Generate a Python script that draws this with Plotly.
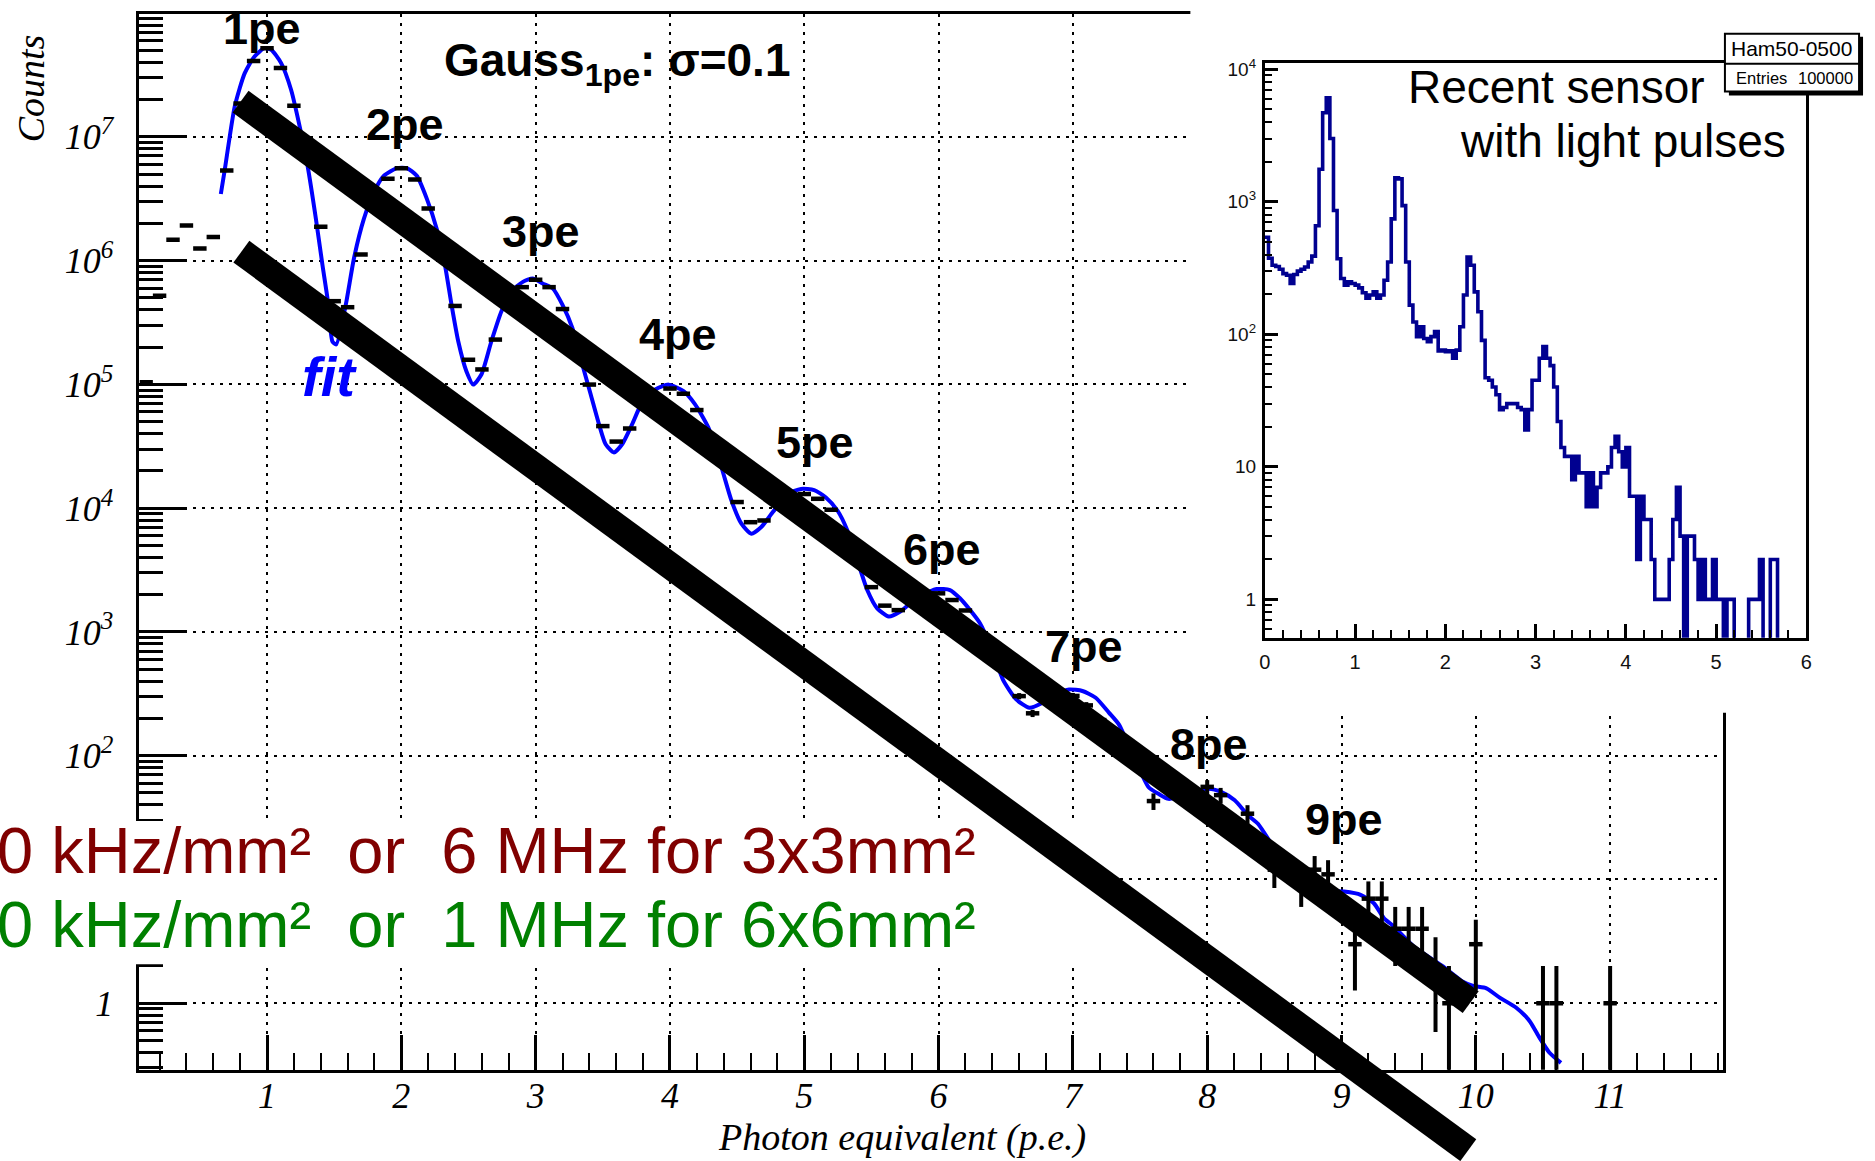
import math
import plotly.graph_objects as go

W, H = 1875, 1161

# ---------------- data ----------------
# main histogram points: bin centre (p.e.) and counts
pts_x = [0.1, 0.2, 0.3, 0.4, 0.5, 0.6, 0.7, 0.8, 0.9, 1.0, 1.1, 1.2,
         1.4, 1.5, 1.6, 1.7, 1.9, 2.0, 2.1, 2.2, 2.4, 2.5, 2.6, 2.7,
         2.9, 3.0, 3.1, 3.2, 3.4, 3.5, 3.6, 3.7, 4.0, 4.1, 4.2, 4.5, 4.6, 4.7,
         5.0, 5.1, 5.2, 5.5, 5.6, 5.7, 6.0, 6.1, 6.2, 6.6, 6.7, 7.0, 7.1, 7.2,
         7.6, 8.0, 8.1, 8.3, 8.5, 8.7, 8.8, 8.9, 9.1, 9.2, 9.3, 9.4, 9.5, 9.6,
         9.7, 9.8, 10.0, 10.5, 10.6, 11.0]
pts_y = [1.04e5, 5.2e5, 1.47e6, 1.92e6, 1.25e6, 1.55e6, 5.34e6, 1.86e7, 4.1e7, 5.2e7, 3.6e7, 1.78e7,
         1.88e6, 4.7e5, 4.2e5, 1.12e6, 4.58e6, 5.58e6, 4.52e6, 2.63e6, 4.3e5, 1.58e5, 1.32e5, 2.3e5,
         6.1e5, 7.0e5, 6.1e5, 4.06e5, 9.96e4, 4.6e4, 3.45e4, 4.4e4, 9.25e4, 8.4e4, 6.2e4, 1.12e4, 7.7e3, 7.95e3,
         1.3e4, 1.19e4, 9.7e3, 2.3e3, 1.63e3, 1.5e3, 2.05e3, 1.81e3, 1.49e3, 303, 220, 304, 255, 194,
         43, 56, 48, 34, 12, 9, 12, 11, 3, 7, 7, 4, 4, 4,
         2, 1, 3, 1, 1, 1]

# fitted curve
fit_x = [0.656, 0.686, 0.76, 0.834, 0.907, 0.981, 1.031, 1.105, 1.179, 1.253,
         1.302, 1.364, 1.413, 1.45, 1.487, 1.515, 1.586, 1.647, 1.721, 1.795,
         1.869, 1.967, 2.041, 2.115, 2.19, 2.263, 2.325, 2.374, 2.424, 2.485,
         2.535, 2.596, 2.67, 2.744, 2.818, 2.905, 2.978, 3.052, 3.127, 3.2,
         3.274, 3.348, 3.41, 3.472, 3.521, 3.583, 3.644, 3.718, 3.792, 3.891,
         3.99, 4.101, 4.187, 4.286, 4.384, 4.458, 4.532, 4.606, 4.68, 4.766,
         4.877, 4.976, 5.074, 5.161, 5.247, 5.321, 5.395, 5.469, 5.543, 5.629,
         5.715, 5.789, 5.876, 5.987, 6.085, 6.159, 6.233, 6.307, 6.40, 6.479,
         6.578, 6.677, 6.775, 6.874, 6.972, 7.071, 7.17, 7.268, 7.342, 7.45,
         7.564, 7.64, 7.712, 7.85, 8.008, 8.107, 8.205, 8.304, 8.378, 8.5,
         8.65, 8.8, 9.019, 9.142, 9.241, 9.315, 9.389, 9.55, 9.75, 9.9,
         9.981, 10.079, 10.178, 10.301, 10.4, 10.473, 10.547, 10.634]
fit_y = [3.45e6, 5.48e6, 1.77e7, 3.27e7, 4.46e7, 5.2e7, 5.05e7, 3.94e7, 2.4e7, 1.08e7,
         5.83e6, 2.17e6, 9.16e5, 4.95e5, 2.22e5, 2.1e5, 4.38e5, 1.04e6, 2.17e6, 3.56e6,
         4.84e6, 5.58e6, 5.58e6, 4.84e6, 3.15e6, 1.81e6, 9.16e5, 4.38e5, 2.22e5, 1.27e5,
         9.95e4, 1.2e5, 2.22e5, 3.86e5, 5.6e5, 6.73e5, 7.16e5, 6.53e5, 5.96e5, 4.38e5,
         2.84e5, 1.44e5, 8.28e4, 4.75e4, 3.28e4, 2.82e4, 3.28e4, 4.75e4, 7.1e4, 9.08e4,
         9.95e4, 8.81e4, 6.89e4, 4.48e4, 2.13e4, 1.15e4, 7.48e3, 6.22e3, 7.03e3, 9.29e3,
         1.3e4, 1.43e4, 1.4e4, 1.22e4, 9.57e3, 6.61e3, 3.79e3, 2.18e3, 1.55e3, 1.33e3,
         1.46e3, 1.7e3, 1.99e3, 2.22e3, 2.18e3, 1.87e3, 1.51e3, 1.18e3, 7.1e2, 4.12e2,
         2.85e2, 2.44e2, 2.68e2, 3.13e2, 3.43e2, 3.33e2, 2.94e2, 2.23e2, 1.79e2, 1.0e2,
         55.6, 49, 44.8, 47.9, 54, 50.7, 43.6, 33, 28.2, 17.8,
         10.5, 8.3, 7.98, 7.52, 6.43, 4.88, 4.18, 2.8, 2.0, 1.5,
         1.38, 1.32, 1.11, 0.92, 0.72, 0.53, 0.40, 0.33]

# hand-drawn slope guides (x in p.e., y in counts)
guide_hi_x = [0.803, 9.962]
guide_hi_y = [1.92e7, 1.02]
guide_lo_x = [0.809, 9.944]
guide_lo_y = [1.18e6, 0.065]

# inset histogram (bin width 0.04 from 0 to 6)
inset_bin_w = 0.04
inset_counts = [540, 375, 332, 325, 310, 287, 279, 242, 283, 300,
                310, 322, 351, 389, 660, 1760, 4700, 6100, 3000, 860,
                372, 264, 235, 249, 242, 235, 224, 206, 187, 198,
                209, 187, 198, 256, 351, 743, 1520, 1490, 935, 351,
                166, 124, 96, 114, 93, 88, 96, 105, 75, 76,
                74, 75, 66, 76, 114, 198, 383, 332, 209, 148,
                90, 47, 45, 40, 35, 27, 28, 30, 30, 30,
                28, 27, 19, 27, 45, 45, 66, 81, 66, 58,
                40, 22, 14, 12, 12, 8, 12, 9, 9, 5,
                9, 5, 7, 9, 9, 10, 14, 17, 13, 10,
                14, 6, 6, 2, 6, 4, 4, 2, 1, 1,
                1, 1, 2, 4, 7, 3, 0, 3, 3, 2,
                1, 2, 1, 1, 2, 1, 1, 0, 1, 1,
                0, 0, 0, 0, 1, 1, 1, 2, 0, 0,
                2, 2, 0, 0, 0, 0, 0, 0, 0, 0]

main_xticks = [1, 2, 3, 4, 5, 6, 7, 8, 9, 10, 11]
main_yticks = [1, 10, 1e2, 1e3, 1e4, 1e5, 1e6, 1e7]
# the "10" label sits under the text panel in the original, so it is left blank
main_yticktext = ["1", "", "10<sup>2</sup>", "10<sup>3</sup>", "10<sup>4</sup>",
                  "10<sup>5</sup>", "10<sup>6</sup>", "10<sup>7</sup>"]
inset_xticks = [0, 1, 2, 3, 4, 5, 6]
inset_yticks = [1, 10, 100, 1000, 10000]
inset_yticktext = ["1", "10", "10<sup>2</sup>", "10<sup>3</sup>", "10<sup>4</sup>"]
pe_labels = ["1pe", "2pe", "3pe", "4pe", "5pe", "6pe", "7pe", "8pe", "9pe"]

# ---------------- geometry (pixels of the 1875x1161 page) ----------------
MAIN_L, MAIN_R, MAIN_T, MAIN_B = 134.3, 1728.0, 7.3, 1069.3
MAIN_XR = [0.05, 11.84]
MAIN_YR = [-0.538, 7.99]
INS_L, INS_R, INS_T, INS_B = 1267.0, 1812.0, 56.0, 634.6
INS_XR = [0, 6]
INS_YR = [-0.29, 4.05]


def pxx(x):
    return x / W


def pxy(y):
    return 1 - y / H


def ext_x(l, r, r0, r1):
    s = (r1 - r0) / (r - l)
    return [r0 - l * s, r1 + (W - r) * s]


def ext_y(t, b, r0, r1):
    s = (r1 - r0) / (b - t)
    return [r0 - (H - b) * s, r1 + t * s]


SERIF = "Liberation Serif"
SANS = "Liberation Sans"

fig = go.Figure()

# main plot
fig.add_trace(go.Scatter(x=fit_x, y=fit_y, mode="lines", xaxis="x", yaxis="y",
                         line=dict(color="#0000ff", width=4, shape="spline", smoothing=0.6),
                         hoverinfo="skip", showlegend=False))
fig.add_trace(go.Scatter(x=pts_x, y=pts_y, mode="markers", xaxis="x", yaxis="y",
                         marker=dict(size=2, color="black"),
                         error_x=dict(type="constant", value=0.05, thickness=4.5, width=0, color="black"),
                         error_y=dict(type="data", array=[math.sqrt(v) for v in pts_y],
                                      thickness=4, width=0, color="black"),
                         hoverinfo="skip", showlegend=False))
# helper pixel subplot (white masks live in its shape layer)
fig.add_trace(go.Scatter(x=[], y=[], xaxis="x2", yaxis="y2", showlegend=False, hoverinfo="skip"))
# slope guides on an overlay with the same scale as the main axes
for gx, gy in ((guide_hi_x, guide_hi_y), (guide_lo_x, guide_lo_y)):
    fig.add_trace(go.Scatter(x=gx, y=gy, mode="lines", xaxis="x3", yaxis="y3",
                             line=dict(color="black", width=27),
                             hoverinfo="skip", showlegend=False))
# inset histogram
edges = [round(i * inset_bin_w, 4) for i in range(len(inset_counts) + 1)]
hist_y = [c if c > 0 else 0.1 for c in inset_counts]
hist_y = hist_y + [hist_y[-1]]
fig.add_trace(go.Scatter(x=edges, y=hist_y, mode="lines", xaxis="x4", yaxis="y4",
                         line=dict(color="#000090", width=3.6, shape="hv"),
                         hoverinfo="skip", showlegend=False))

grid = dict(showgrid=True, gridcolor="black", gridwidth=2, griddash="3px,6px")
tickfont_main = dict(family=SERIF, size=36, color="black", style="italic")

fig.update_layout(
    width=W, height=H, autosize=False,
    margin=dict(l=0, r=0, t=0, b=0),
    paper_bgcolor="white", plot_bgcolor="rgba(0,0,0,0)",
    showlegend=False,
    xaxis=dict(domain=[pxx(MAIN_L), pxx(MAIN_R)], range=MAIN_XR, anchor="y",
               tickmode="array", tickvals=main_xticks, ticktext=[str(v) for v in main_xticks],
               ticks="inside", ticklen=35, tickwidth=3, tickcolor="black",
               showline=True, linewidth=3, linecolor="black", mirror=True, zeroline=False,
               tickfont=tickfont_main, ticklabelstandoff=-8,
               minor=dict(ticks="inside", ticklen=17, tickwidth=2, tickcolor="black",
                          dtick=0.2, tick0=0, showgrid=False),
               **grid),
    yaxis=dict(domain=[pxy(MAIN_B), pxy(MAIN_T)], range=MAIN_YR, type="log", anchor="x",
               tickmode="array", tickvals=main_yticks, ticktext=main_yticktext,
               ticks="inside", ticklen=48, tickwidth=3, tickcolor="black",
               showline=True, linewidth=3, linecolor="black", mirror=True, zeroline=False,
               tickfont=tickfont_main, ticklabelstandoff=16,
               minor=dict(ticks="inside", ticklen=24, tickwidth=2.5, tickcolor="black",
                          dtick="D1", showgrid=False),
               **grid),
    xaxis2=dict(domain=[0, 1], range=[0, W], anchor="y2", visible=False, fixedrange=True),
    yaxis2=dict(domain=[0, 1], range=[H, 0], anchor="x2", visible=False, fixedrange=True),
    xaxis3=dict(domain=[0, 1], range=ext_x(MAIN_L, MAIN_R, *MAIN_XR), anchor="y3",
                visible=False, fixedrange=True),
    yaxis3=dict(domain=[0, 1], range=ext_y(MAIN_T, MAIN_B, *MAIN_YR), type="log", anchor="x3",
                visible=False, fixedrange=True),
    xaxis4=dict(domain=[pxx(INS_L), pxx(INS_R)], range=INS_XR, anchor="y4",
                tickmode="array", tickvals=inset_xticks, ticktext=[str(v) for v in inset_xticks],
                ticks="inside", ticklen=14, tickwidth=2.5, tickcolor="black",
                showline=True, linewidth=3, linecolor="black", mirror=True, zeroline=False,
                showgrid=False, tickfont=dict(family=SANS, size=20, color="#111"),
                ticklabelstandoff=4,
                minor=dict(ticks="inside", ticklen=8, tickwidth=2, tickcolor="black",
                           dtick=0.2, tick0=0, showgrid=False)),
    yaxis4=dict(domain=[pxy(INS_B), pxy(INS_T)], range=INS_YR, type="log", anchor="x4",
                tickmode="array", tickvals=inset_yticks, ticktext=inset_yticktext,
                ticks="inside", ticklen=13, tickwidth=2.5, tickcolor="black",
                showline=True, linewidth=3, linecolor="black", mirror=True, zeroline=False,
                showgrid=False, tickfont=dict(family=SANS, size=19, color="#111"),
                ticklabelstandoff=2,
                minor=dict(ticks="inside", ticklen=7, tickwidth=2, tickcolor="black",
                           dtick="D1", showgrid=False)),
)

# white masks (drawn above the main plot, below the guides and the inset)
shapes = [
    dict(type="rect", xref="x2", yref="y2", x0=1192, x1=W + 5, y0=-5, y1=710,
         fillcolor="white", line=dict(width=0), layer="below"),
    dict(type="rect", xref="x2", yref="y2", x0=-5, x1=1100, y0=819, y1=963,
         fillcolor="white", line=dict(width=0), layer="below"),
    # stats box with shadow
    dict(type="rect", xref="paper", yref="paper", x0=pxx(1734), x1=pxx(1869),
         y0=pxy(89), y1=pxy(30), fillcolor="black", line=dict(width=0), layer="above"),
    dict(type="rect", xref="paper", yref="paper", x0=pxx(1730), x1=pxx(1865),
         y0=pxy(85), y1=pxy(27), fillcolor="white", line=dict(color="black", width=2), layer="above"),
    dict(type="line", xref="paper", yref="paper", x0=pxx(1730), x1=pxx(1865),
         y0=pxy(57), y1=pxy(57), line=dict(color="black", width=2), layer="above"),
]
fig.update_layout(shapes=shapes)


def ann(text, x, y, size, color="black", family=SANS, weight="normal", style="normal",
        xanchor="center", yanchor="middle", angle=0):
    return dict(text=text, x=pxx(x), y=pxy(y), xref="paper", yref="paper", showarrow=False,
                xanchor=xanchor, yanchor=yanchor, textangle=angle, borderpad=0,
                font=dict(family=family, size=size, color=color, weight=weight, style=style))


pe_pos = [(257.5, 21.5), (401.3, 118), (538, 225.7), (676.7, 329.8), (814, 438),
          (941.7, 545.7), (1085, 643), (1210.8, 741.5), (1346.7, 817.3)]
anns = [ann(t, x, y, 45, weight="bold") for t, (x, y) in zip(pe_labels, pe_pos)]
anns += [
    ann("Gauss<sub>1pe</sub>: σ=0.1", 440, 57, 46, weight="bold", xanchor="left"),
    ann("fit", 326, 372, 56, color="#0000ff", weight="bold", style="italic"),
    ann("Counts", 25, 82, 38, family=SERIF, style="italic", angle=-90),
    ann("Photon equivalent (p.e.)", 902, 1137, 38, family=SERIF, style="italic"),
    ann("0 kHz/mm²\u00a0\u00a0or\u00a0\u00a06 MHz for 3x3mm²", -10, 849, 65, color="#800000",
        xanchor="left"),
    ann("0 kHz/mm²\u00a0\u00a0or\u00a0\u00a01 MHz for 6x6mm²", -10, 923, 65, color="#008000",
        xanchor="left"),
    ann("Recent sensor", 1410, 80, 46, xanchor="left"),
    ann("with light pulses", 1462, 134.5, 46, xanchor="left"),
    ann("Ham50-0500", 1797, 42, 21),
    ann("Entries", 1740, 71, 16.5, xanchor="left"),
    ann("100000", 1860, 71, 16.5, xanchor="right"),
]
fig.update_layout(annotations=anns)

fig.write_html("out.html")
